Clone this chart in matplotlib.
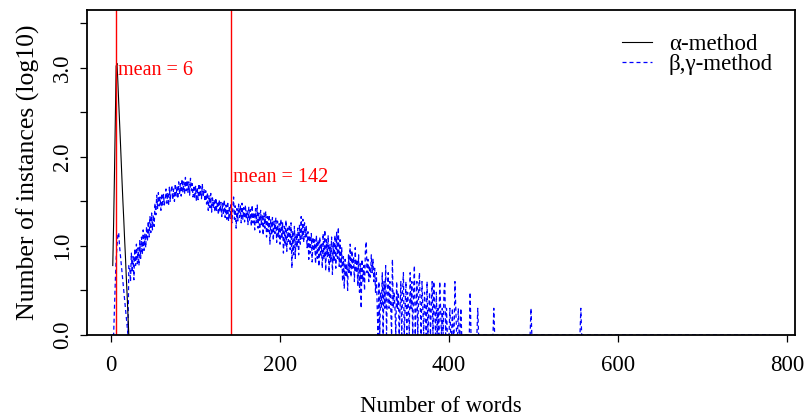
import numpy as np
import matplotlib
matplotlib.use("Agg")
import matplotlib.pyplot as plt

# ---------------- data ----------------
alpha_x = list(range(2, 22))
alpha_y = [0.78, 1.25, 1.80, 2.40, 3.02, 3.05, 2.85, 2.62, 2.40, 2.18,
           1.95, 1.72, 1.50, 1.30, 1.08, 0.88, 0.65, 0.45, 0.22, 0.00]

# beta,gamma-method: log10 values for word counts 1..441
beta_head = [
    0.00, 0.00, 0.00, 0.30, 0.60, 0.85, 1.00, 1.12, 1.15, 1.00,
    0.90, 0.80, 0.70, 0.60, 0.50, 0.40, 0.30, 0.20, 0.10, 0.00,
    0.78, 0.78, 0.60, 0.92, 0.70, 0.88, 0.62, 0.97, 0.78, 1.02,
    0.80, 0.98, 0.78, 1.06, 0.86, 1.10, 0.90, 1.18, 0.95, 1.14,
    0.98, 1.22, 1.05, 1.28, 1.10, 1.33, 1.15, 1.37, 1.18, 1.35,
    1.22, 1.48, 1.35, 1.57, 1.42, 1.60, 1.45, 1.55, 1.40, 1.59,
    1.44, 1.58, 1.46, 1.52, 1.64, 1.48, 1.60, 1.45, 1.66, 1.50,
    1.62, 1.68, 1.52, 1.64, 1.50, 1.70, 1.56, 1.67, 1.53, 1.72,
    1.58, 1.70, 1.56, 1.75, 1.60, 1.72, 1.58, 1.77, 1.62, 1.74,
    1.60, 1.72, 1.57, 1.76, 1.62, 1.70, 1.55, 1.68, 1.53, 1.67,
    1.50, 1.66, 1.52, 1.70, 1.55, 1.67, 1.53, 1.69, 1.55, 1.64,
    1.50, 1.62, 1.47, 1.60, 1.40, 1.57, 1.43, 1.59, 1.38, 1.54,
    1.42, 1.52, 1.38, 1.54, 1.40, 1.50, 1.35, 1.52, 1.38, 1.49,
    1.33, 1.48, 1.35, 1.52, 1.32, 1.46, 1.30, 1.50, 1.28, 1.45,
    1.31, 1.48, 1.26, 1.42, 1.55, 1.30, 1.45, 1.20, 1.42, 1.28,
    1.47, 1.32, 1.45, 1.26, 1.48, 1.30, 1.43, 1.27, 1.46, 1.30,
    1.40, 1.24, 1.44, 1.28, 1.41, 1.22, 1.46, 1.26, 1.38, 1.18,
    1.42, 1.26, 1.46, 1.20, 1.37, 1.15, 1.40, 1.24, 1.35, 1.12,
    1.37, 1.20, 1.39, 1.10, 1.33, 1.16, 1.35, 1.02, 1.30, 1.12,
    1.32, 1.06, 1.28, 1.14, 1.32, 1.04, 1.28, 1.10, 1.25, 1.02,
    1.30, 1.08, 1.26, 0.92, 1.22, 1.00, 1.29, 0.94, 1.20, 1.05,
    1.24, 0.96, 1.26, 0.75, 1.17, 0.90, 1.22, 0.86, 1.14, 0.98,
    1.20, 0.90, 1.24, 1.02, 1.33, 1.08, 1.30, 1.04, 1.26, 1.10,
    1.22, 0.98, 1.16, 0.85, 1.12, 0.92, 1.14, 0.82, 1.10, 0.94,
    1.07, 0.80, 1.12, 0.86, 1.07, 0.77, 1.10, 0.88, 1.02, 0.75,
    1.14, 0.85, 1.18, 0.72, 1.07, 0.88, 1.12, 0.70, 1.02, 0.82,
    1.10, 0.68, 1.04, 0.82, 1.12, 0.75, 1.16, 0.86, 1.21, 0.77,
    1.07, 0.76, 0.98, 0.60, 0.88, 0.52, 0.85, 0.65, 0.80, 0.50,
    0.90, 0.70, 1.02, 0.65, 0.95, 0.75, 0.88, 0.60, 0.98, 0.70,
    0.85, 0.55, 0.90, 0.48, 0.80, 0.30, 0.85, 0.60, 0.78, 0.50,
    0.95, 1.05, 0.70, 0.85, 0.60, 0.78, 0.65, 0.90, 0.70, 0.85,
    0.60, 0.75, 0.48, 0.70, 0.30, 0.00, 0.60, 0.00, 0.48, 0.30,
    0.70, 0.00, 0.60, 0.30, 0.78, 0.00, 0.48, 0.70, 0.30, 0.60,
    0.30, 0.00, 0.85, 0.30, 0.48, 0.30, 0.00, 0.60, 0.30, 0.48,
    0.00, 0.30, 0.60, 0.00, 0.48, 0.70, 0.00, 0.30, 0.60, 0.00,
    0.48, 0.30, 0.00, 0.70, 0.30, 0.60, 0.00, 0.48, 0.78, 0.00,
    0.30, 0.60, 0.00, 0.48, 0.70, 0.30, 0.00, 0.60, 0.30, 0.00,
    0.48, 0.30, 0.00, 0.60, 0.00, 0.30, 0.48, 0.00, 0.30, 0.60,
    0.00, 0.60, 0.30, 0.00, 0.48, 0.00, 0.30, 0.00, 0.60, 0.30,
    0.00, 0.30, 0.00, 0.48, 0.60, 0.00, 0.30, 0.00, 0.00, 0.00,
    0.30, 0.00, 0.00, 0.30, 0.00, 0.00, 0.60, 0.30, 0.00, 0.00,
    0.30, 0.00, 0.00, 0.30, 0.00, 0.00, 0.00, 0.00, 0.00, 0.00,
    0.00, 0.00, 0.00, 0.00, 0.48, 0.00, 0.00, 0.00, 0.00, 0.00,
    0.00, 0.00, 0.00, 0.30, 0.00, 0.00, 0.00, 0.00, 0.00, 0.00,
]
beta_spike_x = [453, 497, 556]
beta_spike_y = [0.30, 0.30, 0.30]
beta_max_x = 780

means = [6, 142]
mean_label_y = [2.97, 1.77]

x_ticks = [0, 200, 400, 600, 800]
y_ticks = [0.0, 0.5, 1.0, 1.5, 2.0, 2.5, 3.0, 3.5]
y_tick_labels = ["0.0", "", "1.0", "", "2.0", "", "3.0", ""]

# ------------- build beta series -------------
beta_x = np.arange(1, beta_max_x + 1)
beta_y = np.zeros(len(beta_x))
beta_y[:len(beta_head)] = beta_head
for sx, sy in zip(beta_spike_x, beta_spike_y):
    beta_y[sx - 1] = sy

# ------------- plot -------------
plt.rcParams['font.family'] = ['Liberation Serif', 'DejaVu Serif']
fig = plt.figure(figsize=(8.06, 4.15), dpi=100)
ax = fig.add_axes([87/806, 80/415, 708/806, 325/415])

ax.plot(alpha_x, alpha_y, color='black', lw=0.8, label='α-method', zorder=2)
ax.plot(beta_x, beta_y, color='#0000ff', lw=0.9, dashes=(3.2, 2.4),
        label='β,γ-method', zorder=1.5)

for m, ly in zip(means, mean_label_y):
    ax.axvline(m, color='#ff0000', lw=1.0, zorder=2)
    ax.annotate(f"mean = {m}", xy=(m, ly), xytext=(1.5, 0),
                textcoords='offset points', ha='left', va='center',
                color='#ff0000', fontsize=14.5)

ax.set_xlim(-28.5, 809.5)
ax.set_ylim(0, 3.65)
ax.set_xticks(x_ticks)
ax.set_xticklabels([str(t) for t in x_ticks])
ax.set_yticks(y_ticks)
ax.set_yticklabels(y_tick_labels, rotation=90, va='center')
ax.tick_params(direction='out', length=5, width=0.9, labelsize=16.5)
ax.tick_params(axis='x', pad=9.5)
ax.tick_params(axis='y', pad=5)
for s in ax.spines.values():
    s.set_linewidth(1.3)
    s.set_zorder(5)

ax.set_xlabel("Number of words", fontsize=16.5, labelpad=14)
ax.set_ylabel("Number of instances (log10)", fontsize=18.5, labelpad=9)

ax.legend(loc='upper left', bbox_to_anchor=(622/806, 1 - 34/415),
          bbox_transform=fig.transFigure, frameon=False, fontsize=16.5,
          handlelength=1.3, handletextpad=0.75, labelspacing=-0.05,
          borderpad=0, borderaxespad=0)

fig.savefig("out.png", dpi=100)
